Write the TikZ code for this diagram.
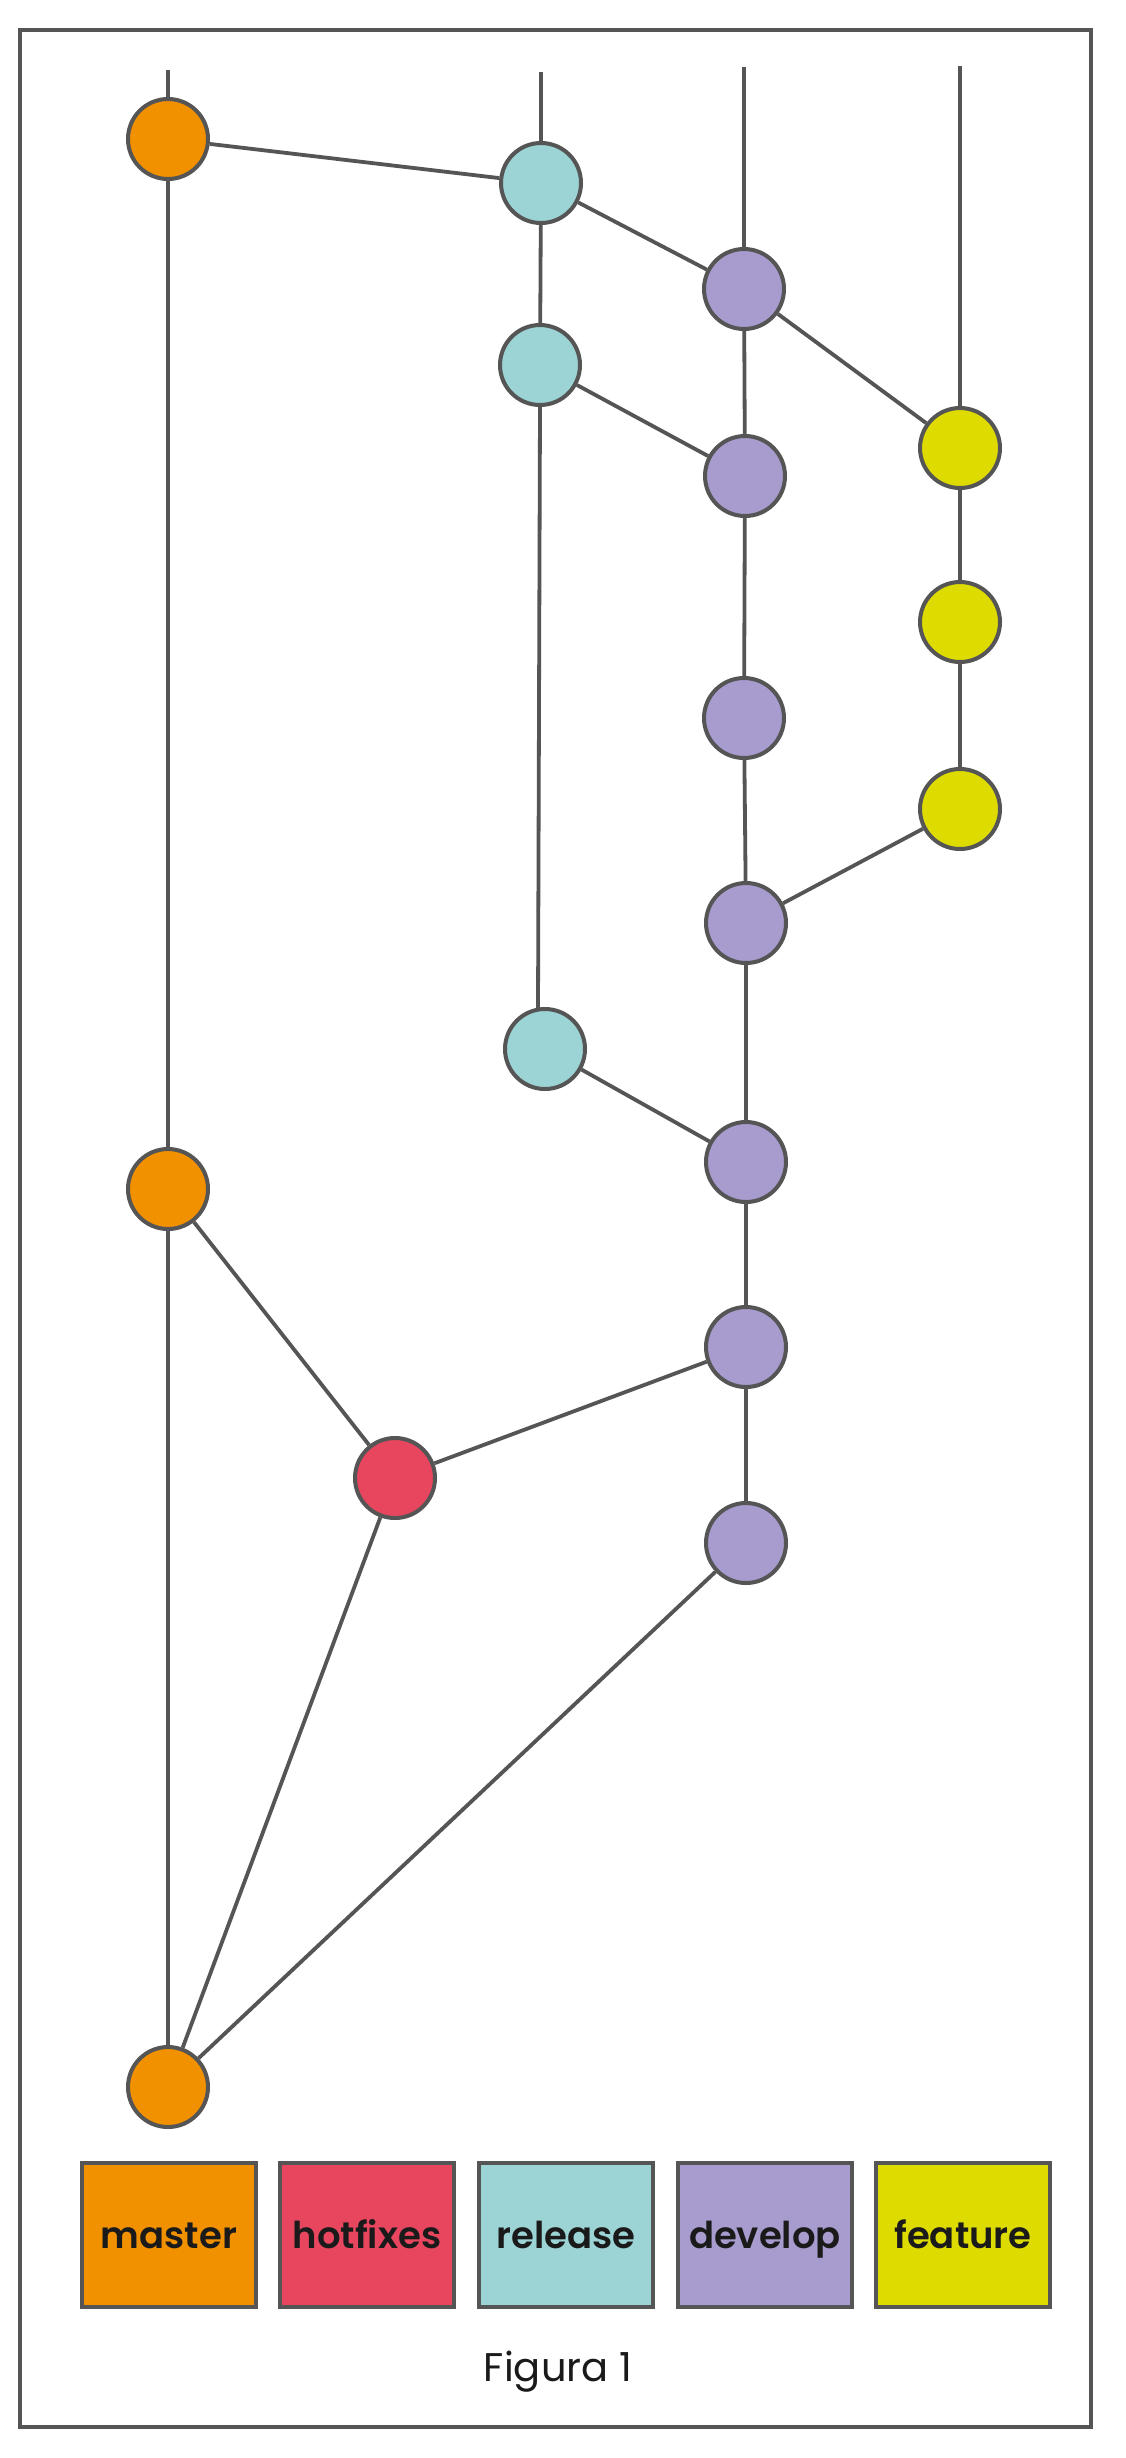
\documentclass[tikz,border=0pt]{standalone}
\usepackage{fontspec}
\setmainfont{Poppins}
\newfontfamily\legfont{Poppins}[UprightFont=* SemiBold]
\definecolor{linec}{HTML}{555555}
\definecolor{cmaster}{HTML}{F29100}
\definecolor{chot}{HTML}{E8465F}
\definecolor{crel}{HTML}{9CD3D5}
\definecolor{cdev}{HTML}{A89CCE}
\definecolor{cfeat}{HTML}{DEDB00}
\definecolor{txt}{HTML}{1A1A1A}
\begin{document}
\begin{tikzpicture}[x=1pt,y=-1pt,
  commit/.style={circle,minimum size=80pt,inner sep=0pt,draw=linec,line width=4pt},
  edge/.style={draw=linec,line width=3.8pt},
  legbox/.style={rectangle,minimum width=174pt,minimum height=144pt,inner sep=0pt,draw=linec,line width=4pt,font=\legfont\fontsize{37}{40}\selectfont,text=txt,text height=27pt,text depth=0pt}]
\useasboundingbox (0,0) rectangle (1125,2458);
\fill[white] (0,0) rectangle (1125,2458);
\draw[linec,line width=4pt] (20,30) rectangle (1091,2427);
% commits
\node[commit,fill=cmaster] (M1) at (168,139) {};
\node[commit,fill=crel] (R1) at (541,183) {};
\node[commit,fill=cdev] (D1) at (744,289) {};
\node[commit,fill=crel] (R2) at (540,365) {};
\node[commit,fill=cdev] (D2) at (745,476) {};
\node[commit,fill=cfeat] (F1) at (960,448) {};
\node[commit,fill=cfeat] (F2) at (960,622) {};
\node[commit,fill=cfeat] (F3) at (960,809) {};
\node[commit,fill=cdev] (D3) at (744,718) {};
\node[commit,fill=cdev] (D4) at (746,923) {};
\node[commit,fill=crel] (R3) at (545,1049) {};
\node[commit,fill=cdev] (D5) at (746,1162) {};
\node[commit,fill=cmaster] (M2) at (168,1189) {};
\node[commit,fill=cdev] (D6) at (746,1347) {};
\node[commit,fill=chot] (H1) at (395,1478) {};
\node[commit,fill=cdev] (D7) at (746,1543) {};
\node[commit,fill=cmaster] (M3) at (168,2087) {};
% stubs
\coordinate (m0) at (168,70);
\coordinate (r0) at (541,72);
\coordinate (d0) at (744,67);
\coordinate (f0) at (960,66);
\coordinate (r3top) at (538,1010);
\draw[edge] (m0) -- (M1);
\draw[edge] (r0) -- (R1);
\draw[edge] (d0) -- (D1);
\draw[edge] (f0) -- (F1);
% edges
\draw[edge] (M1) -- (R1);
\draw[edge] (R1) -- (D1);
\draw[edge] (R1) -- (R2);
\draw[edge] (D1) -- (D2);
\draw[edge] (D1) -- (F1);
\draw[edge] (R2) -- (D2);
\draw[edge] (R2.south) -- (r3top);
\draw[edge] (F1) -- (F2);
\draw[edge] (F2) -- (F3);
\draw[edge] (F3) -- (D4);
\draw[edge] (D2) -- (D3);
\draw[edge] (D3) -- (D4);
\draw[edge] (D4) -- (D5);
\draw[edge] (R3) -- (D5);
\draw[edge] (D5) -- (D6);
\draw[edge] (D6) -- (D7);
\draw[edge] (M1) -- (M2);
\draw[edge] (M2) -- (M3);
\draw[edge] (M2) -- (H1);
\draw[edge] (H1) -- (D6);
\draw[edge] (H1) -- (M3);
\draw[edge] (D7) -- (M3);
% legend
\node[legbox,fill=cmaster] (Lm) at (169,2235) {master};
\node[legbox,fill=chot] (Lh) at (367,2235) {hotfixes};
\node[legbox,fill=crel] (Lr) at (566,2235) {release};
\node[legbox,fill=cdev] (Ld) at (765,2235) {develop};
\node[legbox,fill=cfeat] (Lf) at (963,2235) {feature};
\node[font=\fontsize{40}{44}\selectfont,text=txt] (cap) at (558,2372) {Figura 1};
\end{tikzpicture}
\end{document}
